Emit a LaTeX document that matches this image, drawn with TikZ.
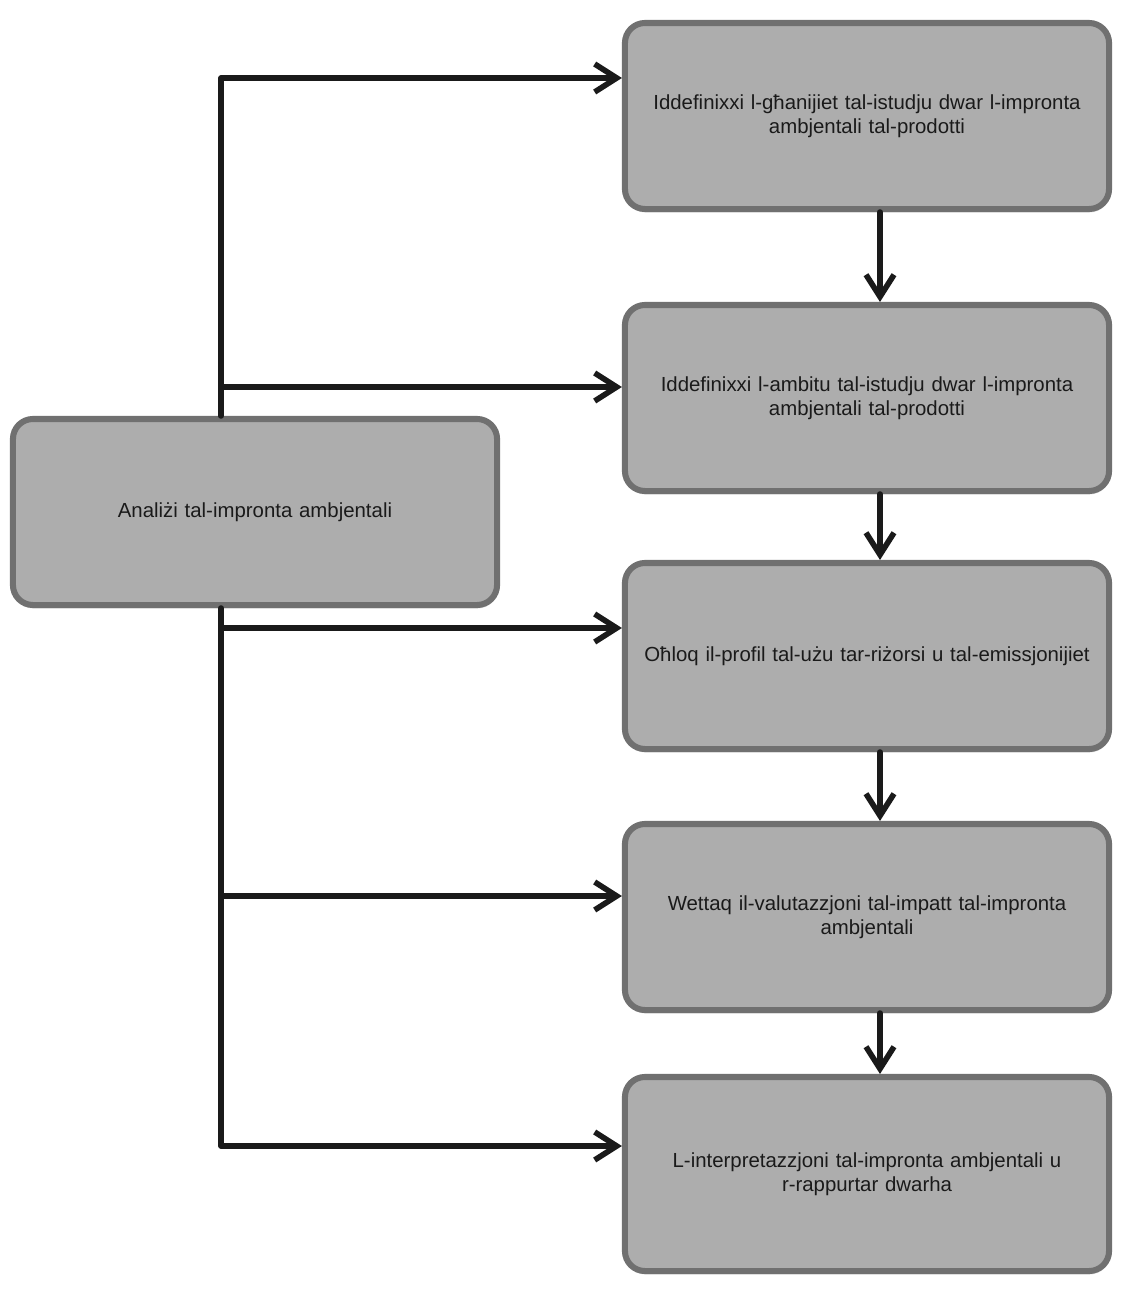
\documentclass[tikz,border=0pt]{standalone}
\usepackage{fontspec}
\setmainfont{Liberation Sans}[WordSpace=1.5]
\usetikzlibrary{arrows.meta,shadows}

\definecolor{boxgray}{HTML}{ADADAD}
\definecolor{edgegray}{HTML}{707070}
\definecolor{ink}{HTML}{1A1A1A}

\begin{document}
\begin{tikzpicture}[x=0.025cm,y=-0.025cm,
  stage/.style={draw=edgegray, line width=4.3pt, fill=boxgray, rounded corners=0.5cm,
    minimum width=12.1cm, minimum height=4.65cm, text width=11.6cm, align=center,
    text=ink, font=\fontsize{14.5}{17}\selectfont,
    drop shadow={opacity=0.2, shadow xshift=0.5pt, shadow yshift=-2.5pt}},
  flow/.style={draw=ink, line width=4pt, line cap=round, line join=round,
    -{Straight Barb[length=5.5mm, width=7mm]}}]
  \useasboundingbox (0,0) rectangle (1135,1290);

  \node[stage] (an) at (255,512) {Analiżi tal-impronta ambjentali};

  \node[stage] (s1) at (867,116) {Iddefinixxi l-għanijiet tal-istudju dwar l-impronta\\ambjentali tal-prodotti};
  \node[stage] (s2) at (867,398) {Iddefinixxi l-ambitu tal-istudju dwar l-impronta\\ambjentali tal-prodotti};
  \node[stage] (s3) at (867,656) {Oħloq il-profil tal-użu tar-riżorsi u tal-emissjonijiet};
  \node[stage] (s4) at (867,917) {Wettaq il-valutazzjoni tal-impatt tal-impronta\\ambjentali};
  \node[stage, minimum height=4.85cm] (s5) at (867,1174) {L-interpretazzjoni tal-impronta ambjentali u\\r-rappurtar dwarha};

  \coordinate (trunk) at (221,0);
  \coordinate (a1) at ([yshift=0.95cm]s1.west);
  \coordinate (a2) at ([yshift=0.275cm]s2.west);
  \coordinate (a3) at ([yshift=0.7cm]s3.west);
  \coordinate (a4) at ([yshift=0.525cm]s4.west);
  \coordinate (a5) at ([yshift=0.7cm]s5.west);

  \draw[flow] (an.north -| trunk) |- (a1);
  \draw[flow] (a2 -| trunk) -- (a2);
  \draw[flow] (a3 -| trunk) -- (a3);
  \draw[flow] (a4 -| trunk) -- (a4);
  \draw[flow] (an.south -| trunk) |- (a5);

  \foreach \u/\v in {s1/s2,s2/s3,s3/s4,s4/s5}
    \draw[flow] ([xshift=0.325cm]\u.south) -- ([xshift=0.325cm]\v.north);
\end{tikzpicture}
\end{document}
